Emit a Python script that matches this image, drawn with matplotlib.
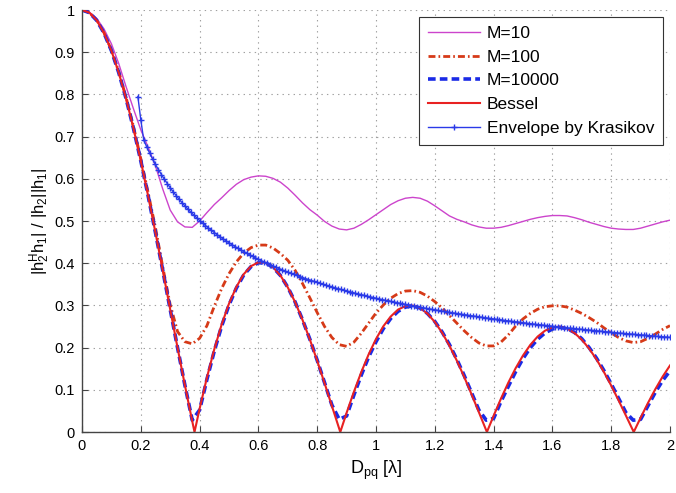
import numpy as np
import matplotlib
matplotlib.use('Agg')
import matplotlib.pyplot as plt

plt.rcParams['font.family'] = ['Liberation Sans', 'DejaVu Sans']
plt.rcParams['mathtext.default'] = 'regular'
plt.rcParams['lines.scale_dashes'] = False

# sample grid used for the array curves and the Bessel curve
d = np.linspace(0, 2, 81)

m10 = [1.000, 0.995, 0.980, 0.955, 0.920, 0.873, 0.818, 0.766, 0.716, 0.675,
       0.630, 0.575, 0.526, 0.498, 0.486, 0.485, 0.500, 0.520, 0.539, 0.555,
       0.572, 0.587, 0.598, 0.604, 0.607, 0.606, 0.601, 0.592, 0.578, 0.561,
       0.543, 0.527, 0.514, 0.499, 0.488, 0.481, 0.479, 0.483, 0.492, 0.503,
       0.515, 0.527, 0.539, 0.548, 0.554, 0.556, 0.554, 0.547, 0.536, 0.524,
       0.512, 0.504, 0.498, 0.491, 0.486, 0.483, 0.483, 0.485, 0.489, 0.494,
       0.499, 0.504, 0.508, 0.511, 0.513, 0.513, 0.512, 0.508, 0.503, 0.497,
       0.492, 0.487, 0.483, 0.481, 0.480, 0.480, 0.483, 0.488, 0.493, 0.498,
       0.502]

m100 = [1.000, 0.994, 0.976, 0.946, 0.905, 0.854, 0.793, 0.724, 0.648, 0.567,
        0.484, 0.390, 0.302, 0.238, 0.214, 0.209, 0.222, 0.252, 0.298, 0.340,
        0.375, 0.403, 0.424, 0.437, 0.443, 0.443, 0.436, 0.423, 0.407, 0.383,
        0.352, 0.318, 0.283, 0.250, 0.224, 0.207, 0.203, 0.213, 0.234, 0.258,
        0.282, 0.301, 0.317, 0.328, 0.334, 0.335, 0.331, 0.322, 0.309, 0.294,
        0.276, 0.258, 0.240, 0.224, 0.211, 0.204, 0.204, 0.213, 0.230, 0.251,
        0.268, 0.281, 0.291, 0.297, 0.299, 0.299, 0.296, 0.289, 0.281, 0.271,
        0.260, 0.247, 0.235, 0.224, 0.216, 0.212, 0.214, 0.222, 0.232, 0.243,
        0.252]

m10000 = [1.000, 0.9938, 0.9755, 0.9452, 0.9037, 0.8516, 0.7899, 0.7198, 0.6425, 0.5594,
          0.4720, 0.3819, 0.2906, 0.1998, 0.1109, 0.028, 0.052, 0.125, 0.192, 0.251,
          0.301, 0.341, 0.372, 0.392, 0.401, 0.401, 0.390, 0.371, 0.343, 0.308,
          0.266, 0.220, 0.170, 0.117, 0.064, 0.030, 0.038, 0.088, 0.135, 0.178,
          0.214, 0.245, 0.269, 0.286, 0.296, 0.299, 0.294, 0.281, 0.262, 0.237,
          0.207, 0.172, 0.134, 0.093, 0.052, 0.028, 0.032, 0.072, 0.108, 0.143,
          0.174, 0.200, 0.220, 0.235, 0.244, 0.248, 0.245, 0.236, 0.221, 0.200,
          0.175, 0.146, 0.114, 0.080, 0.046, 0.028, 0.030, 0.062, 0.094, 0.122,
          0.145]

bessel = [1.000, 0.9938, 0.9755, 0.9452, 0.9037, 0.8516, 0.7899, 0.7198, 0.6425, 0.5594,
          0.4720, 0.3819, 0.2906, 0.1998, 0.1109, 0.0255, 0.0550, 0.1293, 0.1962, 0.2548,
          0.3042, 0.3437, 0.3740, 0.3930, 0.4022, 0.4011, 0.3903, 0.3709, 0.3427, 0.3077,
          0.2658, 0.2193, 0.1689, 0.1159, 0.0617, 0.0076, 0.0454, 0.0955, 0.1420, 0.1840,
          0.2203, 0.2506, 0.2736, 0.2901, 0.2984, 0.2997, 0.2937, 0.2805, 0.2609, 0.2352,
          0.2045, 0.1691, 0.1306, 0.0894, 0.0468, 0.0039, 0.0383, 0.0789, 0.1168, 0.1512,
          0.1813, 0.2066, 0.2263, 0.2402, 0.2480, 0.2497, 0.2452, 0.2348, 0.2188, 0.1977,
          0.1721, 0.1426, 0.1101, 0.0752, 0.0391, 0.0025, 0.0337, 0.0686, 0.1014, 0.1313,
          0.1576]

# zeros of the Bessel curve
d_zero = [0.3827, 0.8786, 1.3773, 1.8767]

# envelope sampled finer (dense + markers)
d_env = np.round(np.arange(0.19, 2.0001, 0.01), 2)
env = [0.795, 0.740,
       0.6917, 0.6759, 0.6610, 0.6471, 0.6340, 0.6217, 0.6101, 0.5990, 0.5887, 0.5788,
       0.5693, 0.5604, 0.5518, 0.5436, 0.5358, 0.5283, 0.5211, 0.5143, 0.5076, 0.5012,
       0.4951, 0.4891, 0.4834, 0.4779, 0.4726, 0.4674, 0.4624, 0.4576, 0.4529, 0.4483,
       0.4439, 0.4396, 0.4354, 0.4314, 0.4275, 0.4236, 0.4199, 0.4162, 0.4127, 0.4092,
       0.4059, 0.4026, 0.3994, 0.3963, 0.3932, 0.3902, 0.3873, 0.3844, 0.3816, 0.3789,
       0.3762, 0.3736, 0.3710, 0.3685, 0.3660, 0.3636, 0.3613, 0.3589, 0.3567, 0.3544,
       0.3522, 0.3501, 0.3480, 0.3459, 0.3438, 0.3418, 0.3399, 0.3379, 0.3360, 0.3341,
       0.3323, 0.3305, 0.3287, 0.3270, 0.3252, 0.3235, 0.3219, 0.3202, 0.3186, 0.3170,
       0.3154, 0.3139, 0.3123, 0.3108, 0.3094, 0.3079, 0.3065, 0.3050, 0.3036, 0.3022,
       0.3009, 0.2995, 0.2982, 0.2969, 0.2956, 0.2943, 0.2931, 0.2918, 0.2906, 0.2894,
       0.2882, 0.2870, 0.2858, 0.2847, 0.2835, 0.2824, 0.2813, 0.2802, 0.2791, 0.2780,
       0.2770, 0.2759, 0.2749, 0.2738, 0.2728, 0.2718, 0.2708, 0.2699, 0.2689, 0.2679,
       0.2670, 0.2660, 0.2651, 0.2642, 0.2632, 0.2624, 0.2615, 0.2606, 0.2597, 0.2588,
       0.2580, 0.2571, 0.2563, 0.2554, 0.2546, 0.2538, 0.2530, 0.2522, 0.2514, 0.2506,
       0.2498, 0.2491, 0.2483, 0.2475, 0.2468, 0.2460, 0.2453, 0.2446, 0.2438, 0.2431,
       0.2424, 0.2417, 0.2410, 0.2403, 0.2396, 0.2390, 0.2383, 0.2376, 0.2369, 0.2363,
       0.2356, 0.2350, 0.2343, 0.2337, 0.2331, 0.2324, 0.2318, 0.2312, 0.2306, 0.2300,
       0.2294, 0.2288, 0.2282, 0.2276, 0.2270, 0.2264, 0.2258, 0.2253, 0.2247, 0.2242]

# merge the zero crossings into the Bessel curve
d_b = np.concatenate([d, d_zero])
b = np.concatenate([bessel, np.zeros(len(d_zero))])
order = np.argsort(d_b)

fig = plt.figure(figsize=(6.76, 4.93), dpi=100)
ax = fig.add_axes([0.1213, 0.1237, 0.8698, 0.856])

ax.plot(d, m10, color='#cc44cc', lw=1.0, label='M=10')
ax.plot(d, m100, color='#d63a18', lw=2.0, linestyle=(0, (5.0, 2.2, 1.2, 2.2)), label='M=100')
ax.plot(d, m10000, color='#1a2ae6', lw=2.6, linestyle=(0, (5.5, 3.0)), label='M=10000')
ax.plot(d_b[order], b[order], color='#e82222', lw=1.5, label='Bessel')
ax.plot(d_env, env, color='#2a3ae8', lw=1.0, marker='+', ms=4.5, mew=1.0,
        label='Envelope by Krasikov')

ax.set_xlim(0, 2)
ax.set_ylim(0, 1)
ax.set_xticks(np.arange(0, 2.01, 0.2))
ax.set_xticklabels(['0', '0.2', '0.4', '0.6', '0.8', '1', '1.2', '1.4', '1.6', '1.8', '2'])
ax.set_yticks(np.arange(0, 1.01, 0.1))
ax.set_yticklabels(['0', '0.1', '0.2', '0.3', '0.4', '0.5', '0.6', '0.7', '0.8', '0.9', '1'])
ax.tick_params(direction='in', length=4, width=0.8, color='#444444', labelsize=10.5, pad=5)
ax.grid(True, color='#a0a0a0', linestyle=(0, (1, 3)), lw=0.8)

for s in ['top', 'right']:
    ax.spines[s].set_visible(False)
for s in ['left', 'bottom']:
    ax.spines[s].set_color('#444444')
    ax.spines[s].set_linewidth(1.0)

ax.set_xlabel(r'$D_{pq}$ [$\lambda$]', fontsize=13, labelpad=4)
ax.set_ylabel(r'$|h^H_2 h_1|$ / $|h_2||h_1|$', fontsize=12, labelpad=2)

leg = ax.legend(loc='upper right', fontsize=12.5, handlelength=3.0, fancybox=False,
                edgecolor='#333333', framealpha=1, borderaxespad=0.4,
                labelspacing=0.5, handletextpad=0.4, borderpad=0.5)
leg.get_frame().set_linewidth(0.8)

plt.savefig('out.png', dpi=100)
